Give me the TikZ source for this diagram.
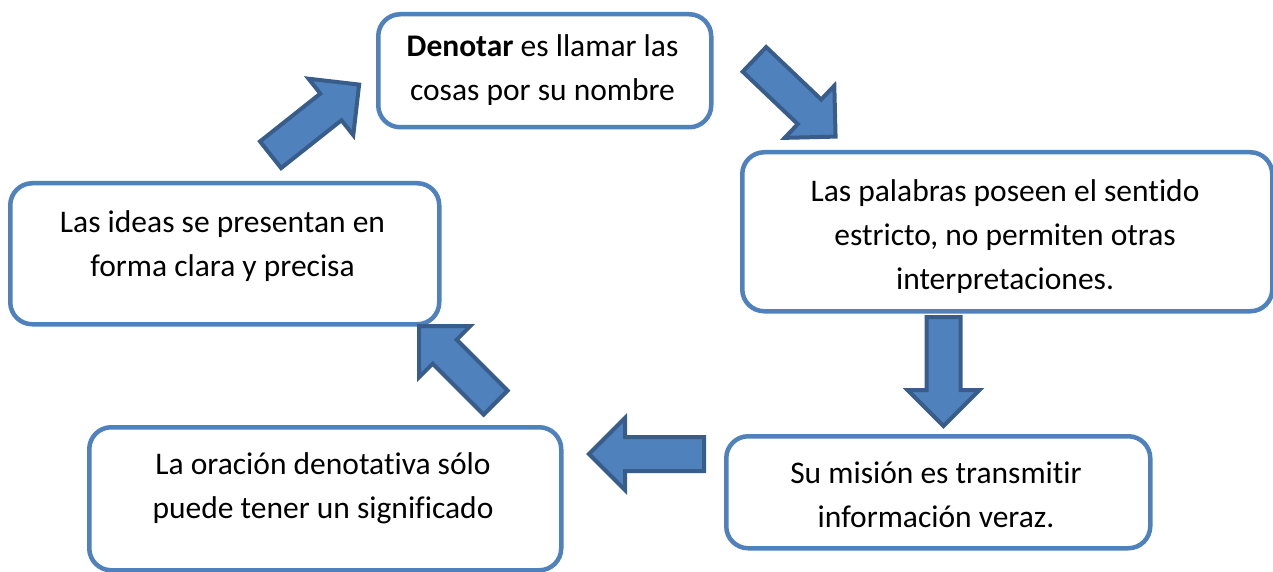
\documentclass[tikz,border=0pt]{standalone}
\usepackage{fontspec}
\setmainfont{Carlito}[Ligatures=NoCommon]
\definecolor{boxblue}{HTML}{4F81BD}
\definecolor{arrowedge}{HTML}{385D8A}
\newcommand{\blockarr}[4]{%
  \draw[blockarrow, shift={(#1,#2)}, rotate=#3]
    (2,-17) -- ({#4-38},-17) -- ({#4-38},-36) -- ({#4-2},0) -- ({#4-38},36) -- ({#4-38},17) -- (2,17) -- cycle;}
\begin{document}
\begin{tikzpicture}[x=1pt,y=-1pt,
  box/.style={draw=boxblue, line width=4.5pt, fill=white, rounded corners=22pt, anchor=north west, inner sep=0pt},
  txt/.style={font=\fontsize{31.5}{44}\selectfont, align=center, anchor=base, inner sep=0pt},
  blockarrow/.style={fill=boxblue, draw=arrowedge, line width=4pt, line join=miter}]
\useasboundingbox (0,0) rectangle (1273,572);
% boxes
\node[box, minimum width=333pt, minimum height=113pt] (b1) at (376,12) {};
\node[box, minimum width=530pt, minimum height=159pt] (b2) at (740,150) {};
\node[box, minimum width=429pt, minimum height=141pt] (b3) at (8,181) {};
\node[box, minimum width=472pt, minimum height=143pt] (b4) at (87,425) {};
\node[box, minimum width=424pt, minimum height=112pt] (b5) at (724,434) {};
% texts (anchored at the baseline of the last line)
\begin{scope}
  \clip (376,12) rectangle (709,105);
  \node[txt] (t1) at (542.5,101) {\textbf{Denotar} es llamar las\\cosas por su nombre};
\end{scope}
\begin{scope}
  \clip (740,150) rectangle (1270,292);
  \node[txt] (t2) at (1005,289) {Las palabras poseen el sentido\\estricto, no permiten otras\\interpretaciones.};
\end{scope}
\node[txt] (t3) at (222.5,276) {Las ideas se presentan en\\forma clara y precisa};
\node[txt] (t4) at (323,518) {La oración denotativa sólo\\puede tener un significado};
\node[txt] (t5) at (936,527) {Su misión es transmitir\\información veraz.};
% arrows
\blockarr{269}{156}{38.4}{117}
\blockarr{753}{58}{-43.6}{116}
\blockarr{943.5}{315}{-90}{113}
\blockarr{706}{454}{180}{119}
\blockarr{497}{404}{135}{112}
\end{tikzpicture}
\end{document}
